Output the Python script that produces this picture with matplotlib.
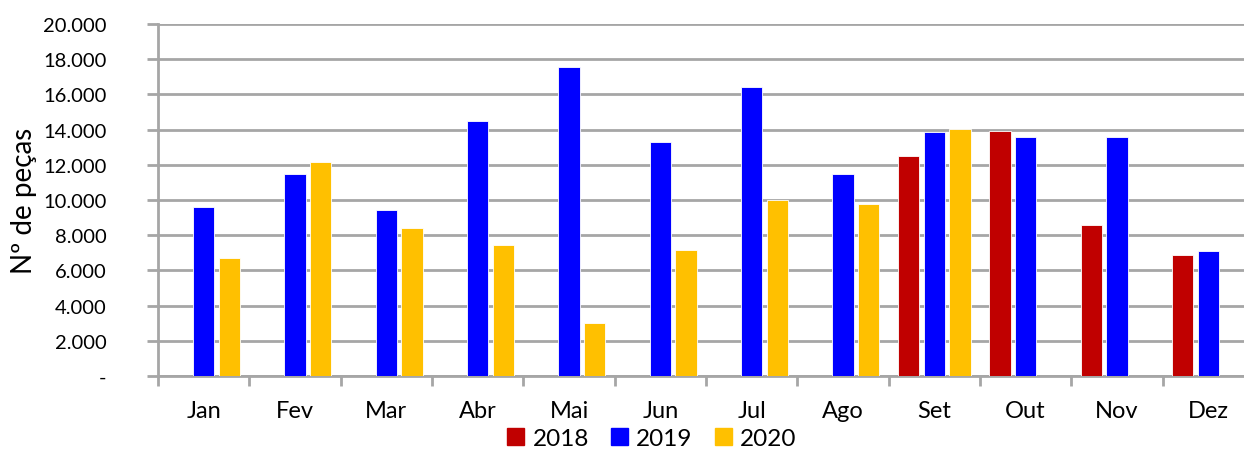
import numpy as np
import matplotlib.pyplot as plt
from matplotlib.patches import Patch
from matplotlib.ticker import FuncFormatter

# Dados (nº de peças por mês)
meses = ["Jan", "Fev", "Mar", "Abr", "Mai", "Jun", "Jul", "Ago", "Set", "Out", "Nov", "Dez"]
v2018 = [0, 0, 0, 0, 0, 0, 0, 0, 12500, 13900, 8600, 6900]
v2019 = [9600, 11500, 9430, 14500, 17550, 13300, 16400, 11500, 13850, 13600, 13600, 7100]
v2020 = [6700, 12150, 8400, 7450, 3000, 7150, 10000, 9750, 14050, 0, 0, 0]

cores = {"2018": "#C00000", "2019": "#0000FF", "2020": "#FFC000"}
grid_cor = "#A6A6A6"

plt.rcParams["font.family"] = ["Lato", "DejaVu Sans"]

fig = plt.figure(figsize=(12.44, 4.56), dpi=100)
ax = fig.add_axes([158 / 1244, 79 / 456, 1096 / 1244, 352 / 456])

x = np.arange(len(meses))
w = 0.235
passo = 0.28
for serie, vals, dx in [("2018", v2018, -passo), ("2019", v2019, 0), ("2020", v2020, passo)]:
    ax.bar(x + dx, vals, width=w, color=cores[serie], edgecolor="white", linewidth=0.6, zorder=3)

ax.set_xlim(-0.5, len(meses) - 0.5)
ax.set_ylim(0, 20000)
ax.set_yticks(np.arange(0, 20001, 2000))
ax.yaxis.set_major_formatter(FuncFormatter(lambda v, p: "-" if v == 0 else f"{int(v):,}".replace(",", ".")))
ax.grid(axis="y", color=grid_cor, linewidth=2, zorder=0)

# ticks nas fronteiras, rótulos no centro
ax.set_xticks(np.arange(-0.5, len(meses) - 0.4, 1))
ax.set_xticklabels([])
ax.set_xticks(x, minor=True)
ax.set_xticklabels(meses, minor=True)
ax.tick_params(axis="x", which="major", length=7, width=2, color=grid_cor)
ax.tick_params(axis="x", which="minor", length=0, pad=17, labelsize=17)
ax.tick_params(axis="y", length=8, width=2, color=grid_cor, labelsize=14.5, pad=29)

for s in ["top", "right"]:
    ax.spines[s].set_visible(False)
for s in ["left", "bottom"]:
    ax.spines[s].set_color(grid_cor)
    ax.spines[s].set_linewidth(2)

ax.set_ylabel("Nº de peças", fontsize=20)
ax.yaxis.set_label_coords(-0.11, 0.5)

handles = [Patch(color=cores[k], label=k) for k in ["2018", "2019", "2020"]]
fig.legend(handles=handles, loc="lower center", bbox_to_anchor=(0.524, -0.035), ncol=3,
           frameon=False, fontsize=17.5, handlelength=0.7, handleheight=0.7,
           handletextpad=0.35, columnspacing=0.9)

fig.savefig("out.png", dpi=100)
